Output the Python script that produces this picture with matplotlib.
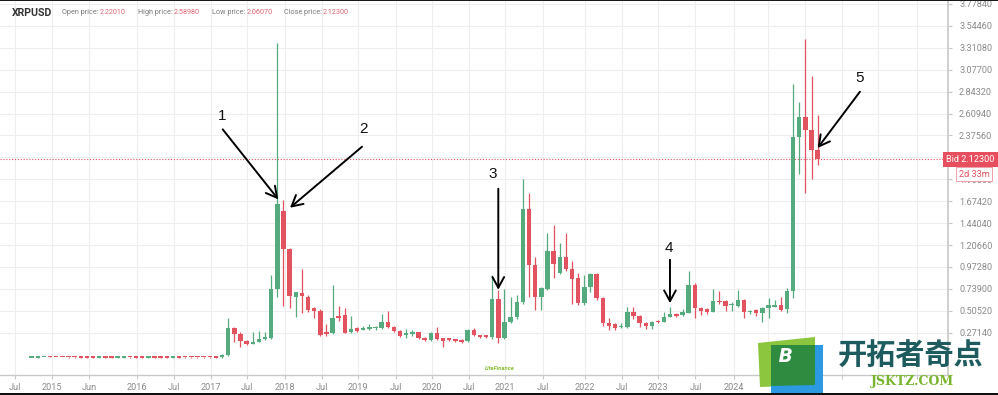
import matplotlib
matplotlib.use("Agg")
import matplotlib.pyplot as plt
from matplotlib.patches import Polygon, Rectangle
from matplotlib.transforms import blended_transform_factory

plt.rcParams['font.family'] = ['Roboto', 'DejaVu Sans']

# ---------------- data (monthly XRPUSD candles) ----------------
opens = [
    0.0050, 0.0060, 0.0080, 0.0220, 0.0110, 0.0090, 0.0085, 0.0075, 0.0070, 0.0068,
    0.0065, 0.0055, 0.0068, 0.0060, 0.0055, 0.0062, 0.0070, 0.0064, 0.0060, 0.0058,
    0.0066, 0.0063, 0.0060, 0.0057, 0.0065, 0.0070, 0.0068, 0.0072, 0.0070, 0.0068,
    0.0066, 0.0065, 0.028, 0.317, 0.260, 0.182, 0.153, 0.175, 0.200, 0.218,
    0.736, 1.569, 1.165, 0.657, 0.692, 0.657, 0.532, 0.507, 0.282, 0.271,
    0.450, 0.461, 0.275, 0.317, 0.300, 0.307, 0.317, 0.317, 0.390, 0.336,
    0.293, 0.246, 0.260, 0.275, 0.218, 0.193, 0.271, 0.210, 0.205, 0.200,
    0.193, 0.182, 0.300, 0.240, 0.240, 0.221, 0.629, 0.210, 0.382, 0.435,
    0.596, 1.594, 0.997, 0.650, 0.736, 1.140, 0.907, 1.076, 0.955, 0.854,
    0.586, 0.754, 0.897, 0.640, 0.371, 0.360, 0.330, 0.328, 0.497, 0.454,
    0.371, 0.343, 0.400, 0.390, 0.443, 0.470, 0.461, 0.486, 0.775, 0.532,
    0.525, 0.497, 0.610, 0.604, 0.565, 0.561, 0.622, 0.490, 0.515, 0.478,
    0.532, 0.550, 0.568, 0.525, 0.718, 2.363, 2.577, 2.434, 2.2201]

highs = [
    0.0060, 0.0080, 0.0120, 0.0260, 0.0130, 0.0100, 0.0090, 0.0080, 0.0080, 0.0075,
    0.0070, 0.0070, 0.0072, 0.0065, 0.0068, 0.0075, 0.0075, 0.0070, 0.0065, 0.0070,
    0.0072, 0.0068, 0.0065, 0.0068, 0.0070, 0.0075, 0.0072, 0.0080, 0.0076, 0.0074,
    0.0072, 0.0400, 0.425, 0.328, 0.280, 0.190, 0.282, 0.290, 0.275, 0.890,
    3.357, 1.687, 1.180, 0.710, 0.955, 0.670, 0.550, 0.520, 0.360, 0.775,
    0.560, 0.532, 0.450, 0.330, 0.346, 0.360, 0.340, 0.475, 0.504, 0.345,
    0.300, 0.307, 0.300, 0.280, 0.225, 0.280, 0.336, 0.215, 0.215, 0.205,
    0.200, 0.310, 0.320, 0.250, 0.245, 0.890, 0.730, 0.736, 0.657, 0.676,
    1.912, 1.759, 1.076, 0.760, 1.336, 1.416, 1.229, 1.336, 1.040, 0.907,
    0.890, 0.910, 0.910, 0.650, 0.425, 0.370, 0.371, 0.540, 0.540, 0.460,
    0.380, 0.400, 0.410, 0.489, 0.550, 0.480, 0.520, 0.925, 0.800, 0.540,
    0.530, 0.736, 0.711, 0.620, 0.596, 0.730, 0.630, 0.515, 0.520, 0.540,
    0.640, 0.622, 0.657, 0.750, 2.920, 2.730, 3.410, 3.006, 2.5898]

lows = [
    0.0040, 0.0050, 0.0070, 0.0080, 0.0080, 0.0070, 0.0060, 0.0060, 0.0055, 0.0050,
    0.0050, 0.0050, 0.0050, 0.0050, 0.0050, 0.0058, 0.0060, 0.0055, 0.0055, 0.0055,
    0.0058, 0.0056, 0.0055, 0.0055, 0.0058, 0.0060, 0.0060, 0.0062, 0.0060, 0.0060,
    0.0058, 0.0060, 0.025, 0.175, 0.114, 0.140, 0.148, 0.170, 0.195, 0.200,
    0.657, 0.558, 0.532, 0.443, 0.478, 0.497, 0.425, 0.235, 0.239, 0.260,
    0.397, 0.270, 0.270, 0.275, 0.295, 0.300, 0.300, 0.310, 0.320, 0.280,
    0.225, 0.218, 0.239, 0.200, 0.180, 0.180, 0.190, 0.114, 0.185, 0.170,
    0.160, 0.175, 0.240, 0.215, 0.215, 0.200, 0.157, 0.200, 0.370, 0.420,
    0.580, 0.657, 0.515, 0.515, 0.730, 0.854, 0.900, 0.930, 0.575, 0.570,
    0.570, 0.700, 0.620, 0.346, 0.300, 0.300, 0.320, 0.320, 0.420, 0.328,
    0.310, 0.310, 0.370, 0.380, 0.440, 0.440, 0.450, 0.480, 0.425, 0.461,
    0.468, 0.490, 0.575, 0.504, 0.500, 0.550, 0.425, 0.470, 0.454, 0.390,
    0.425, 0.540, 0.500, 0.478, 0.640, 1.963, 1.765, 1.909, 2.0607]

closes = [
    0.0058, 0.0080, 0.0110, 0.0100, 0.0090, 0.0080, 0.0070, 0.0065, 0.0060, 0.0058,
    0.0055, 0.0065, 0.0058, 0.0055, 0.0062, 0.0070, 0.0064, 0.0060, 0.0058, 0.0066,
    0.0062, 0.0059, 0.0057, 0.0064, 0.0062, 0.0065, 0.0064, 0.0066, 0.0064, 0.0063,
    0.0062, 0.0330, 0.317, 0.257, 0.182, 0.153, 0.164, 0.200, 0.228, 0.736,
    1.641, 1.165, 0.665, 0.703, 0.665, 0.515, 0.507, 0.246, 0.257, 0.425,
    0.425, 0.271, 0.307, 0.293, 0.317, 0.328, 0.336, 0.390, 0.328, 0.293,
    0.239, 0.271, 0.275, 0.210, 0.193, 0.271, 0.200, 0.186, 0.193, 0.186,
    0.175, 0.300, 0.246, 0.228, 0.228, 0.629, 0.210, 0.390, 0.443, 0.596,
    1.594, 0.997, 0.657, 0.746, 1.140, 1.008, 1.076, 0.950, 0.847, 0.586,
    0.754, 0.897, 0.640, 0.371, 0.343, 0.318, 0.345, 0.497, 0.454, 0.371,
    0.343, 0.390, 0.385, 0.443, 0.468, 0.450, 0.497, 0.775, 0.532, 0.507,
    0.497, 0.604, 0.596, 0.561, 0.575, 0.622, 0.497, 0.507, 0.478, 0.532,
    0.568, 0.568, 0.515, 0.718, 2.363, 2.577, 2.434, 2.223, 2.123]

ytick_values = [0.27140, 0.50520, 0.73900, 0.97280, 1.20660, 1.44040, 1.67420,
                1.90800, 2.14180, 2.37560, 2.60940, 2.84320, 3.07700, 3.31080,
                3.54460, 3.77840]
# 2.14180 sits behind the Bid label in the reference, so its text is not shown
ytick_labels = ["0.27140", "0.50520", "0.73900", "0.97280", "1.20660", "1.44040",
                "1.67420", "1.90800", "", "2.37560", "2.60940", "2.84320",
                "3.07700", "3.31080", "3.54460", "3.77840"]

xtick_labels = ["Jul", "2015", "Jun", "2016", "Jul", "2017", "Jul", "2018", "Jul",
                "2019", "Jul", "2020", "Jul", "2021", "Jul", "2022", "Jul", "2023",
                "Jul", "2024", "", "", "", "", ""]
xtick_pos = [-2.72, 3.35, 9.38, 17.2, 23.22, 29.2, 35.1, 41.25, 47.23, 53.2, 59.3,
             65.15, 71.2, 77.1, 83.2, 90.1, 96.2, 102.05, 108.1, 114.3, 119.97,
             125.95, 131.9, 137.9, 144.1]

bid_price = 2.123
header_values = ["2.22010", "2.58980", "2.06070", "2.12300"]

# ---------------- figure ----------------
W, H = 998, 395
fig = plt.figure(figsize=(W / 100, H / 100), dpi=100)
fig.patch.set_facecolor('white')
ax = fig.add_axes([0, 1 - 375 / H, 948 / W, 375 / H])

GREEN = '#55ab7d'
RED = '#e2535f'

n = len(opens)
xs = list(range(n))
colors = [GREEN if c >= o else RED for o, c in zip(opens, closes)]
bottoms = [min(o, c) for o, c in zip(opens, closes)]
heights = [max(abs(c - o), 0.016) for o, c in zip(opens, closes)]

ax.vlines(xs, lows, highs, colors=colors, lw=0.9, zorder=3)
ax.bar(xs, heights, bottom=bottoms, width=0.72, color=colors, edgecolor='none', zorder=4)

ax.axhline(bid_price, color='#e0505f', ls=(0, (1, 1.6)), lw=0.8, zorder=2)

ax.set_xlim(-5.163, 149.23)
ax.set_ylim(-0.1805, 3.821)

ax.set_yticks(ytick_values)
ax.set_yticklabels(ytick_labels)
ax.yaxis.tick_right()
ax.set_xticks(xtick_pos)
ax.set_xticklabels(xtick_labels)

ax.tick_params(axis='y', length=3, width=0.8, color='#c8c8c8', labelsize=6.6,
               labelcolor='#8a8a8a', pad=5)
ax.tick_params(axis='x', length=3, width=0.8, color='#c8c8c8', labelsize=6.6,
               labelcolor='#8a8a8a', pad=3)

ax.grid(True, color='#eeeeee', lw=0.8, zorder=0)
ax.set_axisbelow(True)
for s in ['top', 'left']:
    ax.spines[s].set_visible(False)
ax.spines['right'].set_color('#c8c8c8')
ax.spines['bottom'].set_color('#c8c8c8')
ax.spines['right'].set_linewidth(1.2)
ax.spines['bottom'].set_linewidth(1.0)

# ---------------- annotations (arrows) ----------------
arrow_kw = dict(arrowstyle='->,head_length=0.55,head_width=0.3', color='black',
                lw=1.4, mutation_scale=14, shrinkA=0, shrinkB=0)
notes = [
    ("1", 40.16, 1.694, -55.6, 70.0, -56.3, 83.3),
    ("2", 42.07, 1.6045, 72.0, 61.0, 73.0, 78.7),
    ("3", 75.99, 0.729, 0.0, 101.0, -6.0, 116.0),
    ("4", 103.95, 0.586, 0.0, 43.4, -0.7, 55.0),
    ("5", 128.0, 2.2416, 42.3, 56.3, 42.3, 69.6),
]
for lbl, xi, yv, dx, dy, tx, ty in notes:
    ax.annotate('', xy=(xi, yv), xytext=(dx, dy), textcoords='offset pixels',
                arrowprops=arrow_kw, zorder=8)
    ax.annotate(lbl, xy=(xi, yv), xytext=(tx, ty), textcoords='offset pixels',
                ha='center', va='center', fontsize=11, color='#111111',
                family=['Liberation Sans', 'DejaVu Sans'], zorder=8)

# ---------------- bid label ----------------
trans = blended_transform_factory(fig.transFigure, ax.transData)
ax.text(970.5 / W, bid_price, 'Bid 2.12300', transform=trans, ha='center', va='center',
        fontsize=6.6, color='white', clip_on=False, zorder=10,
        bbox=dict(boxstyle='square,pad=0.32', fc='#e84f5e', ec='none'))
ax.annotate('2d 33m', xy=(974 / W, bid_price), xycoords=trans, xytext=(0, -15),
            textcoords='offset pixels', ha='center', va='center', fontsize=6.6,
            color='#e0505f', zorder=10, annotation_clip=False,
            bbox=dict(boxstyle='square,pad=0.25', fc='white', ec='#f0a0a8', lw=0.7))

# ---------------- header ----------------
def fx(px):
    return px / W

def fy(py):
    return 1 - py / H

fig.text(fx(12), fy(13), 'XRPUSD', fontsize=7.6, fontweight='bold', color='#333333',
         va='center', ha='left')
hdr = [("Open price:", 62, 100), ("High price:", 138, 174),
       ("Low price:", 212, 247), ("Close price:", 284, 323)]
for (name, xl, xv), val in zip(hdr, header_values):
    fig.text(fx(xl), fy(13), name, fontsize=5.2, color='#7a7a7a', va='center', ha='left')
    fig.text(fx(xv), fy(13), val, fontsize=5.2, color='#e06472', va='center', ha='left')

# LiteFinance mark
fig.text(fx(500), fy(369), 'LiteFinance', fontsize=4.2, style='italic', color='#8bbf3a',
         ha='center', va='center', fontweight='bold')

# ---------------- watermark ----------------
fig.add_artist(Polygon([(fx(758), fy(343)), (fx(815), fy(337)), (fx(815), fy(385)),
                        (fx(760), fy(387))], closed=True, fc='#8cc63f', ec='none',
                       transform=fig.transFigure, zorder=5))
fig.add_artist(Polygon([(fx(771), fy(345)), (fx(823), fy(345)), (fx(823), fy(393)),
                        (fx(771), fy(393))], closed=True, fc='#2b9ae2', ec='none',
                       transform=fig.transFigure, zorder=5))
fig.add_artist(Polygon([(fx(771), fy(345)), (fx(815), fy(345)), (fx(815), fy(385)),
                        (fx(771), fy(386))], closed=True, fc='#2e8b3f', ec='none',
                       transform=fig.transFigure, zorder=6))
fig.text(fx(786), fy(356), 'B', fontsize=15, fontweight='heavy', style='italic',
         color='white', ha='center', va='center', zorder=7)
fig.text(fx(911), fy(356), '开拓者奇点', fontsize=21, fontweight='bold', color='#1d5b5e',
         ha='center', va='center', family=['Noto Sans CJK SC', 'DejaVu Sans'], zorder=7)
fig.text(fx(912), fy(382), 'JSKTZ.COM', fontsize=9, fontweight='bold', color='#78b52e',
         ha='center', va='center', family=['DejaVu Serif'], zorder=7)

# screenshot borders
fig.add_artist(Rectangle((0, fy(1.2)), 1, 1.2 / H, transform=fig.transFigure,
                         fc='#1a1a1a', ec='none', zorder=4))
fig.add_artist(Rectangle((0, 0), 1, 2 / H, transform=fig.transFigure,
                         fc='#111111', ec='none', zorder=4))

fig.savefig('out.png', dpi=100)
